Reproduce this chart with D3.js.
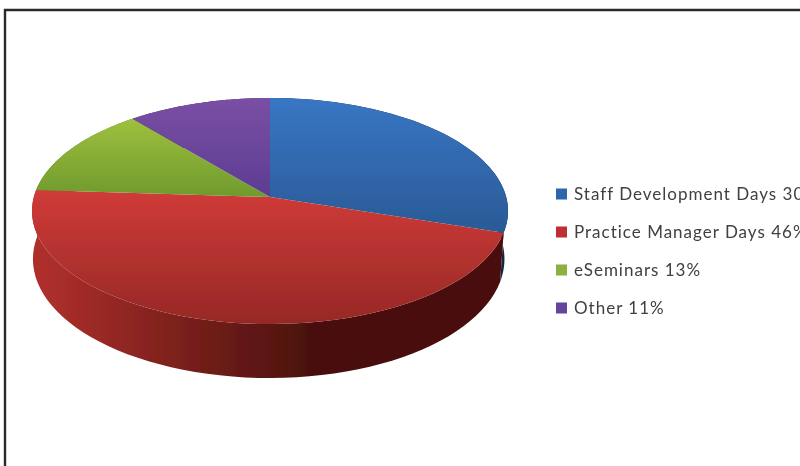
<!DOCTYPE html>
<html>
<head>
<meta charset="utf-8">
<style>
    html, body { margin: 0; padding: 0; background: #fff; overflow: hidden; }
    svg { display: block; }
    text { font-family: Lato, sans-serif; }
</style>
</head>
<body>
<div id="chart"></div>
<script src="https://cdn.jsdelivr.net/npm/d3@7"></script>
<script>
    // chart data
    let categories = ['Staff Development Days', 'Practice Manager Days', 'eSeminars', 'Other'];
    let shares = [30, 46, 13, 11];

    let svgWidth = 800;
    let svgHeight = 466;

    // pie geometry, perspective view of a flat disc
    let apex = {x: 270, y: 197};
    let radiusX = 236.2;
    let radiusY = 111.3;
    let perspective = 0.124;
    let depth = 47.3;
    let lowerShrink = {left: 0.996, right: 0.985};

    // [top of face, bottom of face]
    let faceColor = d3.scaleOrdinal().domain(categories)
        .range([['#3876c4', '#2a5a96'], ['#d03b38', '#962826'], ['#9fc03e', '#6f9a2d'], ['#7a4fa5', '#5c3d92']]);
    // [left of wall, right of wall]
    let wallColor = d3.scaleOrdinal().domain(categories)
        .range([['#14293f', '#12263f'], ['#ad2f2b', '#4a110d'], ['#5f7f25', '#4a631c'], ['#4b2f70', '#3a2458']]);
    let legendColor = d3.scaleOrdinal().domain(categories)
        .range(['#2f66ab', '#bf2f33', '#8cb043', '#65449a']);

    let svg = d3.select('#chart').append('svg')
        .attr('width', svgWidth)
        .attr('height', svgHeight);

    let defs = svg.append('defs');
    defs.append('filter').attr('id', 'soft')
        .attr('x', '-5%').attr('y', '-5%').attr('width', '110%').attr('height', '110%')
        .append('feGaussianBlur').attr('stdDeviation', 0.6);

    let leftX = apex.x - radiusX / Math.sqrt(1 - perspective * perspective);

    categories.forEach((c, i) => {
        // faces shade over their own height
        let f = defs.append('linearGradient').attr('id', 'face' + i)
            .attr('x1', 0).attr('x2', 0).attr('y1', 0).attr('y2', 1);
        f.append('stop').attr('offset', 0).attr('stop-color', faceColor(c)[0]);
        f.append('stop').attr('offset', 1).attr('stop-color', faceColor(c)[1]);

        // walls shade across the whole pie
        let w = defs.append('linearGradient').attr('id', 'wall' + i)
            .attr('gradientUnits', 'userSpaceOnUse')
            .attr('y1', 0).attr('y2', 0)
            .attr('x1', leftX + 15).attr('x2', apex.x + 40);
        w.append('stop').attr('offset', 0).attr('stop-color', wallColor(c)[0]);
        w.append('stop').attr('offset', 1).attr('stop-color', wallColor(c)[1]);
    });

    // angle on the disc to screen position
    function project(angle) {
        let u = Math.sin(angle);
        let v = Math.cos(angle);
        let w = 1 + perspective * v;
        return [apex.x + radiusX * u / w, apex.y - radiusY * v / w, w];
    }

    function rimPoints(a0, a1) {
        return d3.range(0, 1.0001, 1 / 60).map(t => project(a0 + (a1 - a0) * t));
    }

    // the lower rim sits a little inside the upper one, more so on the right
    function lowerPoint(p) {
        let dx = p[0] - apex.x;
        let shrink = dx < 0 ? lowerShrink.left : lowerShrink.right;
        return [apex.x + dx * shrink, p[1] + depth / p[2]];
    }

    let slices = d3.pie().sort(null)(shares);
    let line = d3.line();

    let pie = svg.append('g').attr('filter', 'url(#soft)');

    // walls first, the faces cover everything but the front
    pie.selectAll('path.wall').data(slices).enter()
        .append('path')
        .attr('class', 'wall')
        .attr('fill', (d, i) => `url(#wall${i})`)
        .attr('d', d => {
            let rim = rimPoints(d.startAngle, d.endAngle);
            return line(rim.concat(rim.map(lowerPoint).reverse())) + 'Z';
        });

    pie.selectAll('path.face').data(slices).enter()
        .append('path')
        .attr('class', 'face')
        .attr('fill', (d, i) => `url(#face${i})`)
        .attr('d', d => line([[apex.x, apex.y]].concat(rimPoints(d.startAngle, d.endAngle))) + 'Z');

    // legend, the long labels run off the right edge as in the original
    let legendY = d3.scalePoint().domain(categories).range([194, 308]);
    let legend = svg.append('g').attr('filter', 'url(#soft)');
    let rows = legend.selectAll('g').data(categories).enter()
        .append('g')
        .attr('transform', d => `translate(556, ${legendY(d)})`);
    rows.append('rect')
        .attr('x', 0).attr('y', -5.5)
        .attr('width', 11).attr('height', 11)
        .attr('fill', d => legendColor(d));
    rows.append('text')
        .attr('x', 18).attr('y', 6)
        .attr('font-size', 17)
        .attr('letter-spacing', 1)
        .attr('fill', '#404040')
        .text((d, i) => `${d} ${shares[i]}%`);

    // frame, runs off the right and the bottom of the picture
    svg.append('path')
        .attr('d', `M5,${svgHeight}V10H${svgWidth}`)
        .attr('fill', 'none')
        .attr('stroke', '#2a2a2a')
        .attr('stroke-width', 2.4);
</script>
</body>
</html>
